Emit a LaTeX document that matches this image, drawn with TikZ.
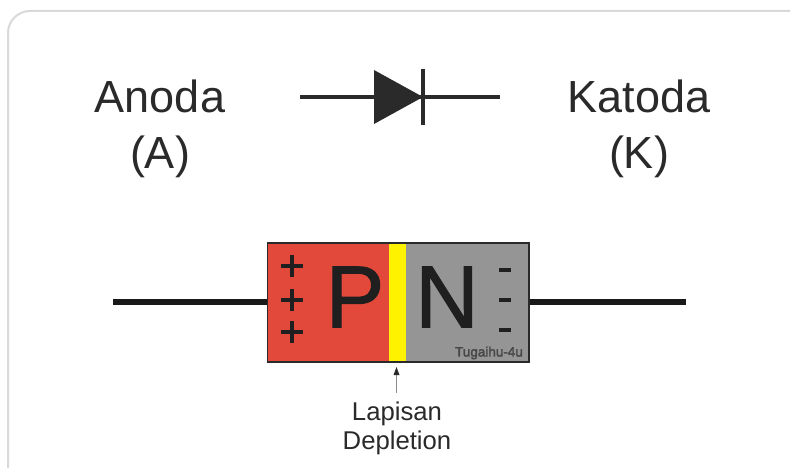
\documentclass[tikz,border=0pt]{standalone}
\usepackage{fontspec}
\setmainfont{Liberation Sans}
\newfontfamily\heavyfont[FakeBold=1.2]{Liberation Sans}
\newfontfamily\markfont[FakeBold=2.5]{Liberation Sans}
\usetikzlibrary{arrows.meta}
\definecolor{txt}{HTML}{2A2A2A}
\definecolor{pred}{HTML}{E2493B}
\definecolor{ngray}{HTML}{959595}
\definecolor{jyel}{HTML}{FFF200}
\tikzset{
  big/.style={font=\fontsize{45}{56}\selectfont,text=txt,align=center,inner sep=0pt},
  letter/.style={font=\heavyfont\fontsize{88}{88}\selectfont,text=black!88,inner sep=0pt},
  small/.style={font=\fontsize{25.7}{29.5}\selectfont,text=txt,align=center,inner sep=0pt},
  wire/.style={line width=6.5pt,color=black!90},
  symwire/.style={line width=4.5pt,color=txt},
  sign/.style={line width=3.6pt,color=black!88},
  pin/.style={inner sep=0pt,minimum size=0pt},
}
\begin{document}
\begin{tikzpicture}[x=1pt,y=-1pt]
\useasboundingbox (0,0) rectangle (798,468);
\fill[white] (0,0) rectangle (798,468);
\draw[black!15,line width=2pt,rounded corners=22pt] (8,480) -- (8,11) -- (790,11);
\node[big] (anoda) at (160,129) {Anoda\\(A)};
\node[big] (katoda) at (639,129) {Katoda\\(K)};
% diode symbol
\coordinate (sa) at (300,97);
\coordinate (sk) at (500,97);
\draw[symwire] (sa) -- (sk);
\fill[txt] (374,70) -- (374,124) -- (423,97) -- cycle;
\draw[symwire] (423,69) -- (423,125);
% body
\coordinate (la) at (113,302);
\coordinate (lk) at (686,302);
\node[pin] (bl) at (267.5,302) {};
\node[pin] (br) at (529,302) {};
\draw[wire] (la) -- (bl);
\draw[wire] (br) -- (lk);
\fill[pred] (267.5,243) rectangle (389,362);
\fill[jyel] (389,243) rectangle (406,362);
\fill[ngray] (406,243) rectangle (529,362);
\draw[txt,line width=1.8pt] (267.5,243) rectangle (529,362);
\node[letter] (p) at (355,297) {P};
\node[letter] (n) at (447,297) {N};
\foreach \y in {266,300,332}{
  \draw[sign] (281,\y) -- (303,\y);
  \draw[sign] (292,\y-11) -- (292,\y+11);
}
\foreach \y in {270,300,330}{
  \draw[sign] (499,\y) -- (511,\y);
}
\node[font=\markfont\fontsize{13.5}{13.5}\selectfont,text=black!72,inner sep=0pt] (wm) at (489,353) {Tugaihu-4u};
% label
\node[small] (lab) at (397,428.5) {Lapisan\\Depletion};
\coordinate (jn) at (396.5,367);
\coordinate (st) at (396.5,393);
\draw[black!45,line width=1pt] (st) -- (396.5,374);
\fill[txt] (jn) -- (399.5,375) -- (393.5,375) -- cycle;
\end{tikzpicture}
\end{document}
